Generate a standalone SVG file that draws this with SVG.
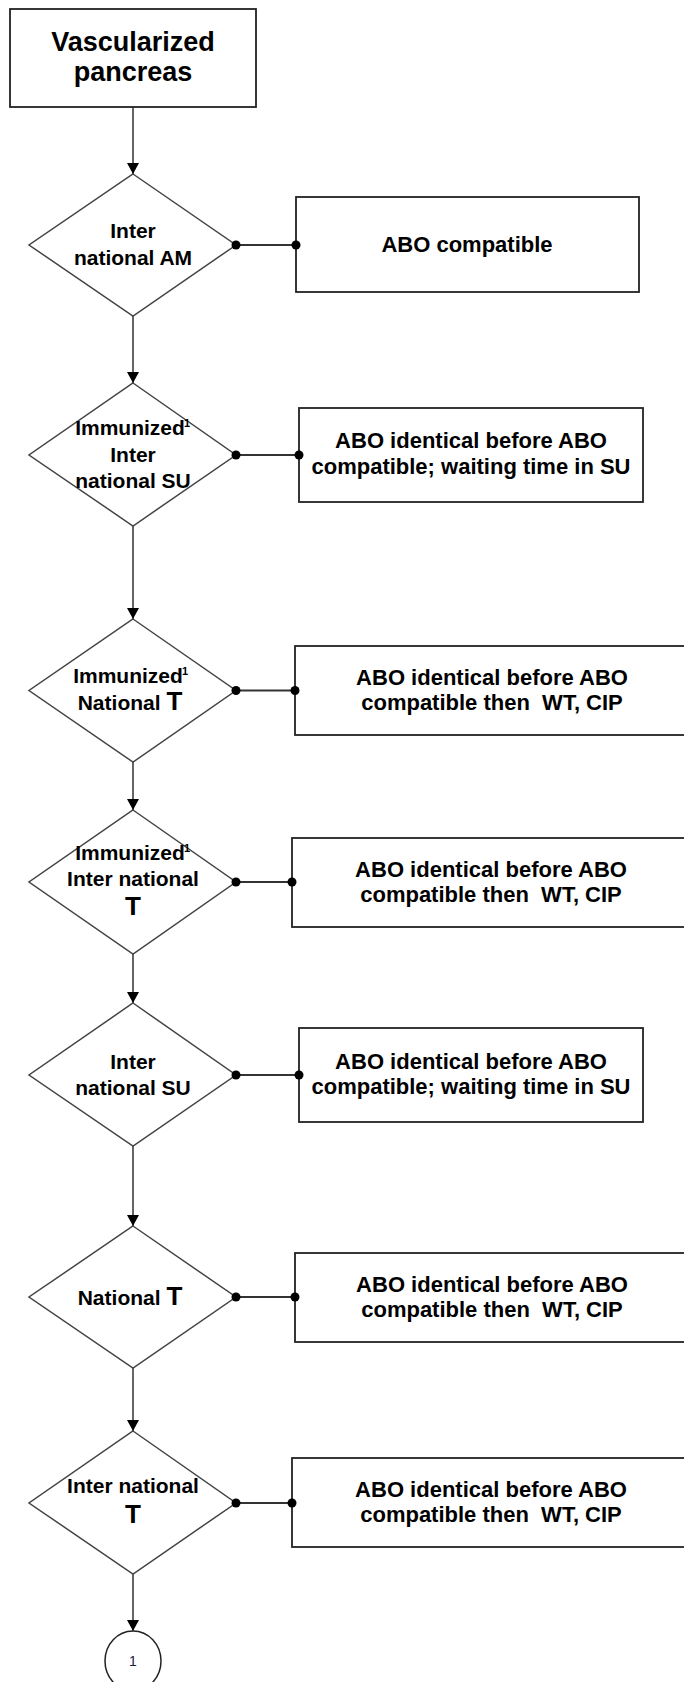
<svg xmlns="http://www.w3.org/2000/svg" width="684" height="1682" viewBox="0 0 684 1682">
<style>
.box{fill:#fff;stroke:#222;stroke-width:1.8}
.dia{fill:#fff;stroke:#444;stroke-width:1.5}
.t{font-family:"Liberation Sans",Arial,sans-serif;font-weight:bold;font-size:21px;fill:#000;text-anchor:middle}
.bt{font-size:22px}
.big{font-size:26px}
.sup{font-family:"Liberation Sans",Arial,sans-serif;font-weight:bold;font-size:11px;fill:#000}
.flow{stroke:#333;stroke-width:1.5;fill:none}
.link{stroke:#333;stroke-width:2;fill:none}
.dot{fill:#000}
</style>
<defs>
<marker id="arr" markerUnits="userSpaceOnUse" markerWidth="12" markerHeight="14" refX="11" refY="6" orient="auto">
<path d="M0,0 L11,6 L0,12 Z" fill="#000"/>
</marker>
</defs>

<g id="connectors">
<line class="flow" x1="133" y1="107" x2="133" y2="174" marker-end="url(#arr)"/>
<line class="flow" x1="133" y1="316" x2="133" y2="383" marker-end="url(#arr)"/>
<line class="flow" x1="133" y1="526" x2="133" y2="619" marker-end="url(#arr)"/>
<line class="flow" x1="133" y1="762" x2="133" y2="810" marker-end="url(#arr)"/>
<line class="flow" x1="133" y1="954" x2="133" y2="1003" marker-end="url(#arr)"/>
<line class="flow" x1="133" y1="1146" x2="133" y2="1226" marker-end="url(#arr)"/>
<line class="flow" x1="133" y1="1368" x2="133" y2="1431" marker-end="url(#arr)"/>
<line class="flow" x1="133" y1="1574" x2="133" y2="1631" marker-end="url(#arr)"/>
<line class="link" x1="236" y1="245" x2="296" y2="245"/>
<line class="link" x1="236" y1="455" x2="299" y2="455"/>
<line class="link" x1="236" y1="690.5" x2="295" y2="690.5"/>
<line class="link" x1="236" y1="882" x2="292" y2="882"/>
<line class="link" x1="236" y1="1075" x2="299" y2="1075"/>
<line class="link" x1="236" y1="1297" x2="295" y2="1297"/>
<line class="link" x1="236" y1="1503" x2="292" y2="1503"/>
</g>

<g id="start">
<rect class="box" x="10" y="9" width="246" height="98"/>
<text class="t" style="font-size:27px" x="133" y="51">Vascularized</text>
<text class="t" style="font-size:27px" x="133" y="81">pancreas</text>
</g>

<g id="d1">
<polygon class="dia" points="133,174 236,245 133,316 29,245"/>
<text class="t" x="133" y="238">Inter</text>
<text class="t" x="133" y="265">national AM</text>
</g>
<g id="b1">
<rect class="box" x="296" y="197" width="343" height="95"/>
<text class="t bt" x="467" y="252">ABO compatible</text>
</g>

<g id="d2">
<polygon class="dia" points="133,383 236,455 133,526 29,455"/>
<text class="t" x="130" y="435">Immunized</text>
<text class="sup" x="184" y="427">1</text>
<text class="t" x="133" y="462">Inter</text>
<text class="t" x="133" y="488">national SU</text>
</g>
<g id="b2">
<rect class="box" x="299" y="408" width="344" height="94"/>
<text class="t bt" x="471" y="448">ABO identical before ABO</text>
<text class="t bt" x="471" y="474">compatible; waiting time in SU</text>
</g>

<g id="d3">
<polygon class="dia" points="133,619 236,690.5 133,762 29,690.5"/>
<text class="t" x="128" y="683">Immunized</text>
<text class="sup" x="182" y="675">1</text>
<text class="t" x="130" y="710">National <tspan class="big">T</tspan></text>
</g>
<g id="b3">
<rect class="box" x="295" y="646" width="395" height="89"/>
<text class="t bt" x="492" y="685" xml:space="preserve">ABO identical before ABO</text>
<text class="t bt" x="492" y="710" xml:space="preserve">compatible then  WT, CIP</text>
</g>

<g id="d4">
<polygon class="dia" points="133,810 236,882 133,954 29,882"/>
<text class="t" x="130" y="860">Immunized</text>
<text class="sup" x="184" y="852">1</text>
<text class="t" x="133" y="886">Inter national</text>
<text class="t big" x="133" y="915">T</text>
</g>
<g id="b4">
<rect class="box" x="292" y="838" width="398" height="89"/>
<text class="t bt" x="491" y="877" xml:space="preserve">ABO identical before ABO</text>
<text class="t bt" x="491" y="902" xml:space="preserve">compatible then  WT, CIP</text>
</g>

<g id="d5">
<polygon class="dia" points="133,1003 236,1075 133,1146 29,1075"/>
<text class="t" x="133" y="1069">Inter</text>
<text class="t" x="133" y="1095">national SU</text>
</g>
<g id="b5">
<rect class="box" x="299" y="1028" width="344" height="94"/>
<text class="t bt" x="471" y="1069">ABO identical before ABO</text>
<text class="t bt" x="471" y="1094">compatible; waiting time in SU</text>
</g>

<g id="d6">
<polygon class="dia" points="133,1226 236,1297 133,1368 29,1297"/>
<text class="t" x="130" y="1305">National <tspan class="big">T</tspan></text>
</g>
<g id="b6">
<rect class="box" x="295" y="1253" width="395" height="89"/>
<text class="t bt" x="492" y="1292" xml:space="preserve">ABO identical before ABO</text>
<text class="t bt" x="492" y="1317" xml:space="preserve">compatible then  WT, CIP</text>
</g>

<g id="d7">
<polygon class="dia" points="133,1431 236,1503 133,1574 29,1503"/>
<text class="t" x="133" y="1493">Inter national</text>
<text class="t big" x="133" y="1523">T</text>
</g>
<g id="b7">
<rect class="box" x="292" y="1458" width="398" height="89"/>
<text class="t bt" x="491" y="1497" xml:space="preserve">ABO identical before ABO</text>
<text class="t bt" x="491" y="1522" xml:space="preserve">compatible then  WT, CIP</text>
</g>

<g id="c1">
<ellipse cx="133" cy="1661" rx="28" ry="30" fill="#fff" stroke="#222" stroke-width="1.5"/>
<text x="133" y="1666" style="font-family:'Liberation Sans',Arial,sans-serif;font-size:14px;fill:#1a1a40;text-anchor:middle">1</text>
</g>

<g id="dots">
<circle class="dot" cx="236" cy="245" r="4.5"/><circle class="dot" cx="296" cy="245" r="4.5"/>
<circle class="dot" cx="236" cy="455" r="4.5"/><circle class="dot" cx="299" cy="455" r="4.5"/>
<circle class="dot" cx="236" cy="690.5" r="4.5"/><circle class="dot" cx="295" cy="690.5" r="4.5"/>
<circle class="dot" cx="236" cy="882" r="4.5"/><circle class="dot" cx="292" cy="882" r="4.5"/>
<circle class="dot" cx="236" cy="1075" r="4.5"/><circle class="dot" cx="299" cy="1075" r="4.5"/>
<circle class="dot" cx="236" cy="1297" r="4.5"/><circle class="dot" cx="295" cy="1297" r="4.5"/>
<circle class="dot" cx="236" cy="1503" r="4.5"/><circle class="dot" cx="292" cy="1503" r="4.5"/>
</g>
</svg>
